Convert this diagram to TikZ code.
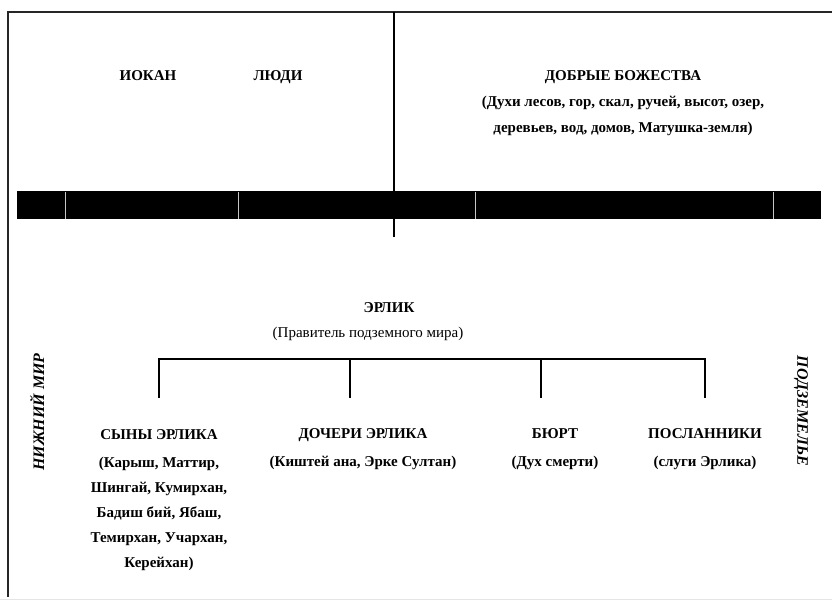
\documentclass[tikz,border=0pt]{standalone}
\usepackage{fontspec}
\setmainfont{Liberation Serif}
\begin{document}
\begin{tikzpicture}[x=1pt,y=-1pt,
  frameline/.style={line width=2.6pt, draw=black!85},
  branch/.style={line width=2.8pt, draw=black},
  celline/.style={line width=0.6pt, draw=gray!45},
  lbl/.style={font=\fontsize{15}{25}\selectfont\bfseries, align=center, inner sep=0pt, anchor=base},
  plain/.style={font=\fontsize{15}{25}\selectfont, align=center, inner sep=0pt, anchor=base},
  side/.style={font=\fontsize{16}{18}\selectfont\bfseries\itshape, inner sep=0pt, anchor=center}]
\useasboundingbox (0,0) rectangle (832,602);
% frame
\coordinate (tl) at (8,12);
\coordinate (tr) at (832,12);
\coordinate (bl) at (8,597);
\draw[frameline] (tr) -- (tl) -- (bl);
\draw[line width=1pt, draw=gray!20] (0,599) -- (832,599);
% black bar
\node[fill=black, minimum width=804pt, minimum height=28pt, inner sep=0pt, anchor=north west] (bar) at (17,191) {};
\foreach \xx in {65,238,475,773} \draw[celline] (\xx,192) -- (\xx,219);
% divider
\coordinate (dtop) at (394,12);
\coordinate (dbot) at (394,237);
\draw[line width=2.6pt] (dtop) -- (dbot);
% top texts
\node[lbl] (iokan) at (148,80) {ИОКАН};
\node[lbl] (people) at (278,80) {ЛЮДИ};
\node[lbl, font=\fontsize{15}{26}\selectfont\bfseries] (good) at (623,132) {ДОБРЫЕ БОЖЕСТВА\\(Духи лесов, гор, скал, ручей, высот, озер,\\деревьев, вод, домов, Матушка-земля)};
% Erlik
\node[lbl] (erlik) at (389,312) {ЭРЛИК};
\node[plain] (ruler) at (368,337) {(Правитель подземного мира)};
% bracket
\coordinate (c1) at (159,359);
\coordinate (c2) at (350,359);
\coordinate (c3) at (541,359);
\coordinate (c4) at (705,359);
\draw[branch] ([xshift=-1.4pt]c1) -- ([xshift=1.4pt]c4);
\coordinate (d1) at (159,398);
\coordinate (d2) at (350,398);
\coordinate (d3) at (541,398);
\coordinate (d4) at (705,398);
\foreach \i in {1,2,3,4} \draw[branch] (c\i) -- (d\i);
% children
\node[lbl] (sons) at (159,567) {СЫНЫ ЭРЛИКА\\[3pt](Карыш, Маттир,\\Шингай, Кумирхан,\\Бадиш бий, Ябаш,\\Темирхан, Учархан,\\Керейхан)};
\node[lbl] (daughters) at (363,466) {ДОЧЕРИ ЭРЛИКА\\[3pt](Киштей ана, Эрке Султан)};
\node[lbl] (byurt) at (555,466) {БЮРТ\\[3pt](Дух смерти)};
\node[lbl] (envoys) at (705,466) {ПОСЛАННИКИ\\[3pt](слуги Эрлика)};
% side labels
\node[side, rotate=90] (lower) at (37,412) {НИЖНИЙ МИР};
\node[side, rotate=-90] (under) at (801,411) {ПОДЗЕМЕЛЬЕ};
\end{tikzpicture}
\end{document}
